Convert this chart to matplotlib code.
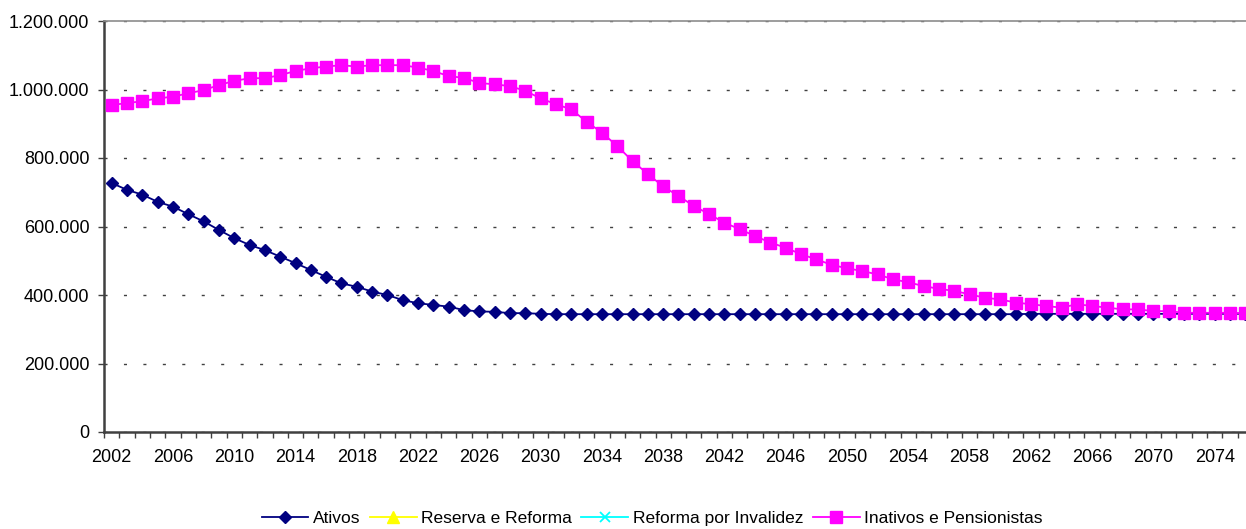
import matplotlib

matplotlib.use("Agg")
import matplotlib.pyplot as plt  # noqa: E402
from matplotlib.ticker import FuncFormatter  # noqa: E402

plt.rcParams["font.family"] = ["Liberation Sans", "DejaVu Sans"]

# Projeção anual 2002-2076
anos = list(range(2002, 2077))

ativos = [
    727000, 707000, 693000, 672000, 658000, 636000, 615000, 590000, 566000, 546000,
    531000, 512000, 493000, 473000, 453000, 434000, 424000, 410000, 400000, 385000,
    376000, 371000, 366000, 356000, 352000, 351000, 347000, 347000, 345000, 344000,
    344000, 344000, 344000, 344000, 344000, 344000, 344000, 344000, 344000, 344000,
    344000, 344000, 344000, 344000, 344000, 344000, 344000, 344000, 344000, 344000,
    344000, 344000, 344000, 344000, 344000, 344000, 344000, 344000, 344000, 344000,
    345000, 345000, 345000, 345000, 345000, 345000, 345000, 345000, 345000, 345000,
    345000, 345000, 345000, 345000, 345000,
]

inativos_pensionistas = [
    955000, 960000, 966000, 974000, 979000, 989000, 998000, 1013000, 1025000, 1033000,
    1033000, 1042000, 1054000, 1062000, 1067000, 1071000, 1067000, 1071000, 1071000, 1071000,
    1064000, 1054000, 1039000, 1034000, 1019000, 1015000, 1010000, 996000, 974000, 957000,
    942000, 906000, 874000, 835000, 791000, 753000, 717000, 689000, 660000, 636000,
    611000, 592000, 572000, 553000, 538000, 519000, 504000, 488000, 478000, 470000,
    460000, 446000, 437000, 426000, 418000, 412000, 402000, 392000, 387000, 378000,
    373000, 368000, 363000, 373000, 368000, 363000, 358000, 358000, 353000, 353000,
    348000, 348000, 348000, 348000, 347000,
]

# séries sem valores na projeção (aparecem só na legenda)
reserva_reforma = []
reforma_invalidez = []

W, H = 1246, 529
fig = plt.figure(figsize=(W / 100, H / 100), dpi=100)
# área do gráfico: eixo y em x=104px, topo 21px, base 432px; 75 categorias de ~15.3px
ax = fig.add_axes([104 / W, (H - 432) / H, 75 * 15.32 / W, 411 / H])

x = list(range(len(anos)))
ax.plot(x, ativos, color="#000080", lw=1.3, marker="D", ms=6.2,
        mec="#000080", label="Ativos", zorder=4)
ax.plot(reserva_reforma, reserva_reforma, color="#FFFF00", lw=1.3, marker="^", ms=8,
        label="Reserva e Reforma")
ax.plot(reforma_invalidez, reforma_invalidez, color="#00FFFF", lw=1.3, marker="x", ms=7,
        mew=1.3, label="Reforma por Invalidez")
ax.plot(x, inativos_pensionistas, color="#FF00FF", lw=1.3, marker="s", ms=8.4,
        mec="#FF00FF", label="Inativos e Pensionistas", zorder=5)

ax.set_xlim(-0.5, len(anos) - 0.5)
ax.set_ylim(0, 1200000)
ax.set_yticks(range(0, 1200001, 200000))
ax.yaxis.set_major_formatter(FuncFormatter(lambda v, _: f"{int(v):,}".replace(",", ".")))

# marcas entre categorias, rótulos a cada 4 anos
ax.set_xticks([i - 0.5 for i in range(len(anos) + 1)], minor=True)
ax.set_xticks(x[::4])
ax.set_xticklabels([str(a) for a in anos[::4]])
ax.tick_params(axis="x", which="major", length=0, pad=12.5, labelsize=13)
ax.tick_params(axis="x", which="minor", length=4, width=1, color="#404040", direction="out")
ax.tick_params(axis="y", length=4, width=1, color="#404040", pad=6.5, labelsize=13)

ax.yaxis.grid(True, color="#404040", lw=1.0, linestyle=(0, (2.2, 11.8)))
ax.set_axisbelow(True)

for side in ("left", "bottom"):
    ax.spines[side].set_color("#404040")
    ax.spines[side].set_linewidth(1.8)
ax.spines["top"].set_color("#8c8c8c")
ax.spines["top"].set_linewidth(1.2)
ax.spines["right"].set_visible(False)

fig.legend(loc="center", bbox_to_anchor=(652 / W, 1 - 518 / H), ncol=4, frameon=False,
           fontsize=12.5, handlelength=2.7, handletextpad=0.25, columnspacing=0.55,
           borderaxespad=0)

fig.savefig("out.png", dpi=100)
